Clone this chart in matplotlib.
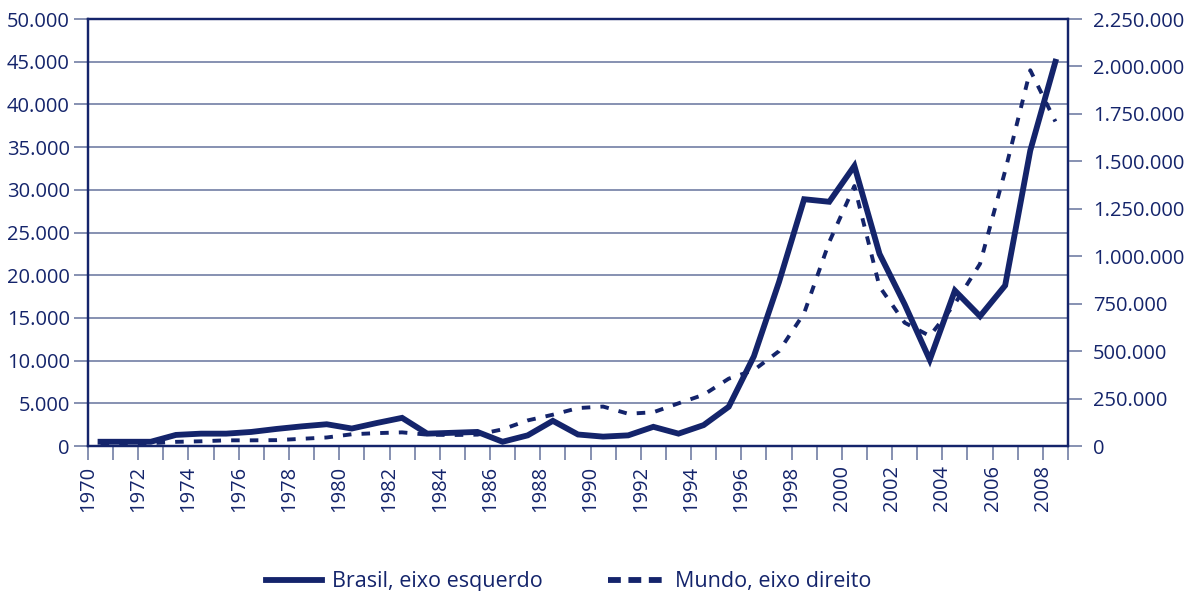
import matplotlib
matplotlib.use("Agg")
import matplotlib.pyplot as plt
from matplotlib.ticker import FuncFormatter, MultipleLocator
from matplotlib.lines import Line2D

# anos e valores (US$ milhões)
anos = list(range(1970, 2009))
brasil = [500, 500, 500, 1300, 1450, 1450, 1650, 2000, 2300, 2550,
          2050, 2700, 3300, 1450, 1550, 1650, 500, 1250, 2950, 1350,
          1100, 1250, 2250, 1450, 2450, 4600, 10500, 19200, 28900, 28600,
          32800, 22500, 16600, 10100, 18200, 15200, 18800, 34600, 45000]
mundo = [12000, 13000, 15000, 22000, 25000, 30000, 30000, 31000, 38000, 45000,
         62000, 68000, 72000, 60000, 58000, 60000, 88000, 135000, 165000, 200000,
         208000, 170000, 178000, 225000, 270000, 355000, 400000, 500000, 700000, 1075000,
         1370000, 840000, 650000, 580000, 750000, 960000, 1450000, 1980000, 1710000]
rotulos_x = [str(a) for a in range(1970, 2009, 2)]

azul = "#14246b"
grade = "#7d88ab"

plt.rcParams["font.family"] = ["Open Sans", "DejaVu Sans"]

def milhar(v, pos):
    return f"{int(round(v)):,}".replace(",", ".")

fig = plt.figure(figsize=(11.84, 5.91), dpi=100)
ax = fig.add_axes([0.0743, 0.2453, 0.8277, 0.7225])
ax2 = ax.twinx()

x = [a + 0.5 for a in anos]
ax.plot(x, brasil, color=azul, lw=4.2, solid_joinstyle="miter", zorder=3)
ax2.plot(x, mundo, color=azul, lw=2.8, linestyle=(0, (2.2, 2.6)), zorder=3)

ax.set_xlim(1970, 2009)
ax.set_ylim(0, 50000)
ax2.set_ylim(0, 2250000)
ax.yaxis.set_major_locator(MultipleLocator(5000))
ax2.yaxis.set_major_locator(MultipleLocator(250000))
ax.yaxis.set_major_formatter(FuncFormatter(milhar))
ax2.yaxis.set_major_formatter(FuncFormatter(milhar))

ax.set_xticks(range(1970, 2010))
ax.set_xticklabels([a if a in rotulos_x else "" for a in map(str, range(1970, 2010))],
                   rotation=90)

ax.grid(axis="y", color=grade, lw=1.3)
ax.set_axisbelow(True)

for a in (ax, ax2):
    for s in a.spines.values():
        s.set_color(azul)
        s.set_linewidth(1.6)
    a.tick_params(colors=grade, labelcolor=azul, labelsize=14.5, length=10, width=1.3)
ax.tick_params(axis="x", length=10, pad=4)
ax.tick_params(axis="y", pad=3)
ax2.tick_params(axis="y", pad=8)

handles = [Line2D([], [], color=azul, lw=4.2),
           Line2D([], [], color=azul, lw=4.2, linestyle=(0, (2.2, 1.3)))]
fig.legend(handles, ["Brasil, eixo esquerdo", "Mundo, eixo direito"],
           loc="lower center", bbox_to_anchor=(0.48, -0.035), ncol=2, frameon=False,
           fontsize=15.5, labelcolor=azul, handlelength=2.6, columnspacing=3.0,
           handletextpad=0.5)

fig.savefig("out.png", dpi=100)
